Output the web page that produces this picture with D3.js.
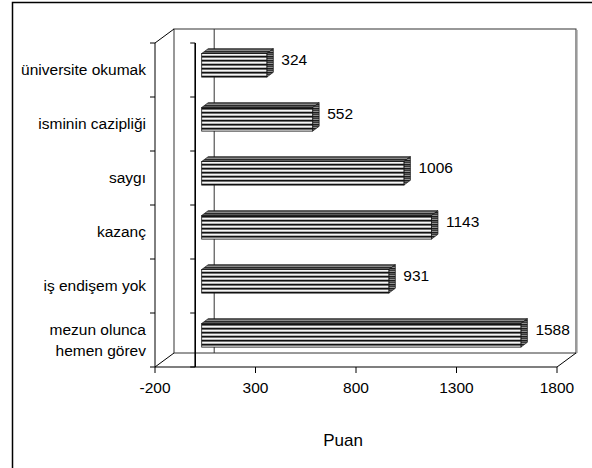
<!DOCTYPE html>
<html><head><meta charset="utf-8">
<script src="https://cdn.jsdelivr.net/npm/d3@7"></script>
<style>html,body{margin:0;padding:0;background:#fff;}svg{display:block;}</style>
</head><body>
<svg id="c" width="592" height="468"></svg>
<script>
const categories = ["üniversite okumak","isminin cazipliği","saygı","kazanç","iş endişem yok","mezun olunca\nhemen görev"];
const values = [324,552,1006,1143,931,1588];
const xTicks = [-200,300,800,1300,1800];
const xTitle = "Puan";

const svg = d3.select("#c");
const font = "'Liberation Sans', Arial, sans-serif";
const L = 155, R = 557, T = 43, B = 367;
const DX = 19, DY = -14;           // wall depth
const f1x = 6.5, f1y = -4.7;        // bar front depth
const f2x = 13, f2y = -9.5;         // bar back depth

const x = d3.scaleLinear().domain([-200,1800]).range([L,R]);
const y = d3.scaleBand().domain(categories).range([T,B]).paddingInner(0.563).paddingOuter(0.2815);

// patterns
const defs = svg.append("defs");
function pat(id, cols){
  const p = defs.append("pattern").attr("id",id).attr("patternUnits","userSpaceOnUse")
    .attr("width",4).attr("height",cols.length);
  cols.forEach((c,i)=>p.append("rect").attr("x",0).attr("y",i).attr("width",4).attr("height",1).attr("fill",c));
}
pat("pf",["#111111","#6e6e6e","#f6f6f6","#b4b4b4"]);
pat("pt",["#2a2a2a","#5a5a5a","#8a8a8a"]);
pat("ps",["#1e1e1e","#5e5e5e","#3a3a3a","#909090"]);

// outer border
svg.append("rect").attr("x",12.5).attr("y",2.5).attr("width",620).attr("height",520)
  .attr("fill","none").attr("stroke","#000").attr("stroke-width",1.5);

// back wall
svg.append("rect").attr("x",L+DX).attr("y",T+DY).attr("width",R-L).attr("height",B-T)
  .attr("fill","#fff").attr("stroke","#333").attr("stroke-width",1);
svg.append("line").attr("x1",R+DX+1).attr("x2",R+DX+1).attr("y1",T+DY+1).attr("y2",B+DY)
  .attr("stroke","#999").attr("stroke-width",1.2);
// gridline at 0 on back wall
svg.append("line").attr("x1",x(0)+DX).attr("x2",x(0)+DX).attr("y1",T+DY).attr("y2",B+DY)
  .attr("stroke","#333").attr("stroke-width",1);

const line = (x1,y1,x2,y2,w)=>svg.append("line").attr("x1",x1).attr("y1",y1).attr("x2",x2).attr("y2",y2)
  .attr("stroke","#000").attr("stroke-width",w||1);
// left wall & floor edges
line(L,T,L,B,1);
line(L,T,L+DX,T+DY,1);
line(L,B,L+DX,B+DY,1);
line(L,B,R,B,1.2);
line(R,B,R+DX,B+DY,1);

// value-0 axis line in front
line(x(0),T,x(0),B,1.6);

// category ticks
const bounds = d3.range(categories.length+1).map(i=>T + i*y.step());
bounds.forEach(b=>{ line(L-5,b,L,b,1); line(x(0)-5,b,x(0),b,1); });

// x ticks
const gx = svg.append("g");
xTicks.forEach(t=>{
  line(x(t),B,x(t),B+6,1);
  gx.append("text").attr("x",x(t)).attr("y",B+26).attr("text-anchor","middle")
    .attr("font-family",font).attr("font-size",15.5).attr("fill","#000").text(t);
});

// bars
const gb = svg.append("g");
categories.forEach((c,i)=>{
  const v = values[i];
  const y0 = y(c), bh = y.bandwidth();
  const x0 = x(0), xv = x(v);
  const g = gb.append("g");
  // top face
  g.append("polygon").attr("points",[[x0+f1x,y0+f1y],[xv+f1x,y0+f1y],[xv+f2x,y0+f2y],[x0+f2x,y0+f2y]].map(p=>p.join(",")).join(" "))
    .attr("fill","url(#pt)").attr("stroke","#111").attr("stroke-width",0.7);
  // side face
  g.append("polygon").attr("points",[[xv+f1x,y0+f1y],[xv+f2x,y0+f2y],[xv+f2x,y0+f2y+bh],[xv+f1x,y0+f1y+bh]].map(p=>p.join(",")).join(" "))
    .attr("fill","url(#ps)").attr("stroke","#111").attr("stroke-width",0.7);
  // front face
  g.append("rect").attr("x",x0+f1x).attr("y",y0+f1y).attr("width",xv-x0).attr("height",bh)
    .attr("fill","url(#pf)").attr("stroke","#111").attr("stroke-width",0.8);
  // value label
  svg.append("text").attr("x",xv+f2x+8).attr("y",y0+bh/2-10).attr("dy","0.35em")
    .attr("font-family",font).attr("font-size",15.5).attr("fill","#000").text(v);
});

// category labels
categories.forEach(c=>{
  const lines = c.split("\n");
  const cy = y(c)+y.bandwidth()/2;
  const lh = 21.5;
  const t = svg.append("text").attr("text-anchor","end").attr("font-family",font).attr("font-size",15.5).attr("fill","#000");
  lines.forEach((ln,j)=>{
    t.append("tspan").attr("x",146).attr("y",cy + (j-(lines.length-1)/2)*lh).attr("dy","0.35em").text(ln);
  });
});

// x title
svg.append("text").attr("x",343).attr("y",440).attr("dy","0.35em").attr("text-anchor","middle")
  .attr("font-family",font).attr("font-size",17).attr("fill","#000").text(xTitle);
</script>
</body></html>
